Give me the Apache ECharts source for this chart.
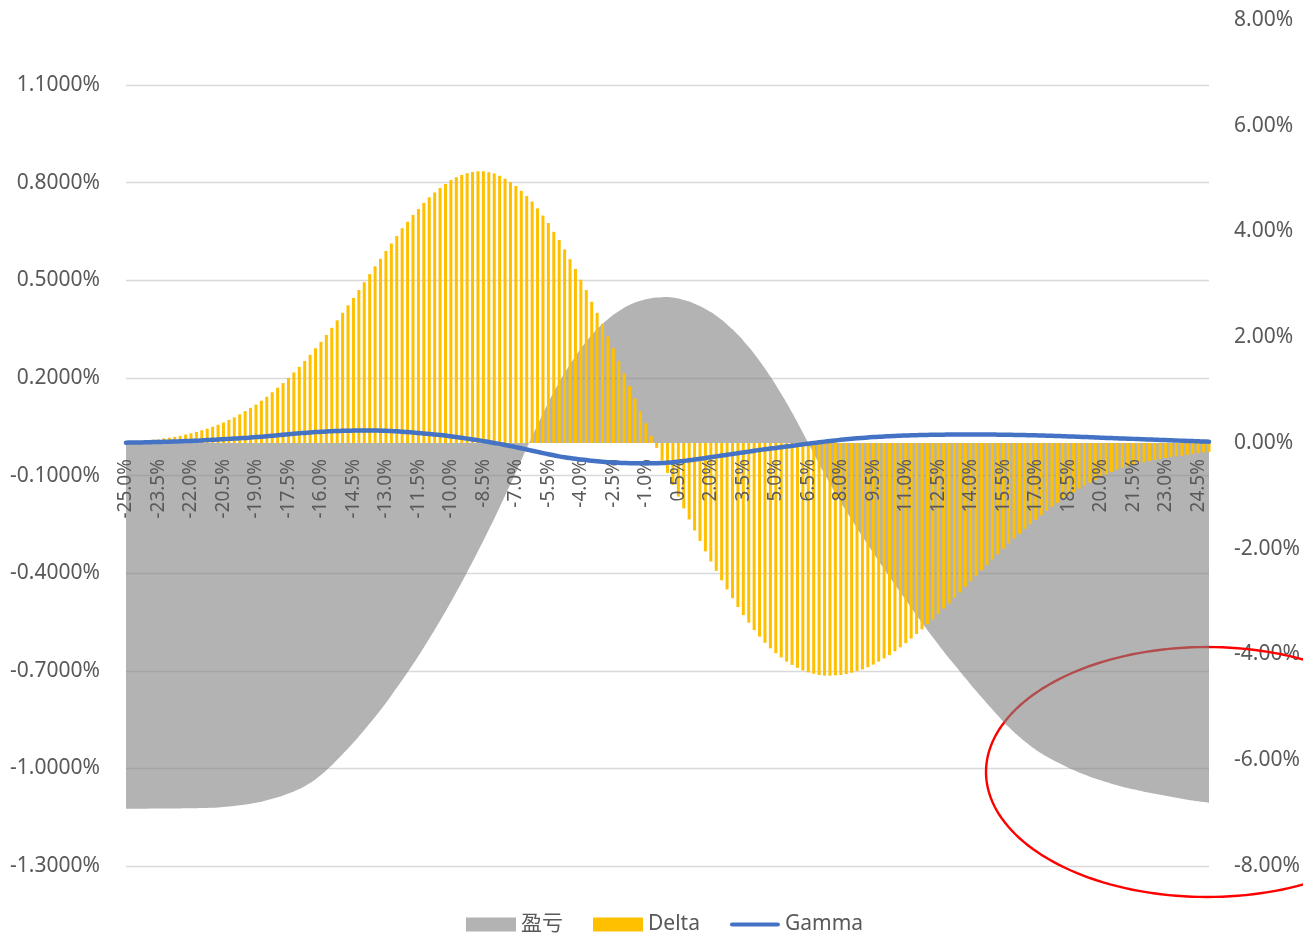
<!DOCTYPE html>
<html><head><meta charset="utf-8">
<script src="https://cdn.jsdelivr.net/npm/echarts@6/dist/echarts.min.js"></script>
<style>html,body{margin:0;padding:0;background:#fff;overflow:hidden}#c{width:1303px;height:935px}</style>
</head><body><div id="c"></div>
<script>
// X categories (underlying move, %)
const categories = [
-25,-24.75,-24.5,-24.25,-24,-23.75,-23.5,-23.25,-23,-22.75,
-22.5,-22.25,-22,-21.75,-21.5,-21.25,-21,-20.75,-20.5,-20.25,
-20,-19.75,-19.5,-19.25,-19,-18.75,-18.5,-18.25,-18,-17.75,
-17.5,-17.25,-17,-16.75,-16.5,-16.25,-16,-15.75,-15.5,-15.25,
-15,-14.75,-14.5,-14.25,-14,-13.75,-13.5,-13.25,-13,-12.75,
-12.5,-12.25,-12,-11.75,-11.5,-11.25,-11,-10.75,-10.5,-10.25,
-10,-9.75,-9.5,-9.25,-9,-8.75,-8.5,-8.25,-8,-7.75,
-7.5,-7.25,-7,-6.75,-6.5,-6.25,-6,-5.75,-5.5,-5.25,
-5,-4.75,-4.5,-4.25,-4,-3.75,-3.5,-3.25,-3,-2.75,
-2.5,-2.25,-2,-1.75,-1.5,-1.25,-1,-0.75,-0.5,-0.25,
0,0.25,0.5,0.75,1,1.25,1.5,1.75,2,2.25,
2.5,2.75,3,3.25,3.5,3.75,4,4.25,4.5,4.75,
5,5.25,5.5,5.75,6,6.25,6.5,6.75,7,7.25,
7.5,7.75,8,8.25,8.5,8.75,9,9.25,9.5,9.75,
10,10.25,10.5,10.75,11,11.25,11.5,11.75,12,12.25,
12.5,12.75,13,13.25,13.5,13.75,14,14.25,14.5,14.75,
15,15.25,15.5,15.75,16,16.25,16.5,16.75,17,17.25,
17.5,17.75,18,18.25,18.5,18.75,19,19.25,19.5,19.75,
20,20.25,20.5,20.75,21,21.25,21.5,21.75,22,22.25,
22.5,22.75,23,23.25,23.5,23.75,24,24.25,24.5,24.75,
25];

// 盈亏 (right axis, %)
const pnl = [
-6.915,-6.915,-6.915,-6.915,-6.915,-6.914,-6.913,-6.913,-6.913,-6.912,
-6.911,-6.910,-6.909,-6.907,-6.905,-6.902,-6.898,-6.892,-6.885,-6.876,
-6.866,-6.853,-6.839,-6.823,-6.805,-6.783,-6.758,-6.730,-6.700,-6.666,
-6.630,-6.589,-6.545,-6.490,-6.430,-6.358,-6.280,-6.190,-6.095,-5.992,
-5.885,-5.777,-5.665,-5.549,-5.429,-5.306,-5.180,-5.049,-4.915,-4.775,
-4.631,-4.486,-4.338,-4.185,-4.028,-3.867,-3.703,-3.534,-3.361,-3.185,
-3.006,-2.822,-2.635,-2.443,-2.248,-2.049,-1.847,-1.641,-1.433,-1.217,
-0.998,-0.777,-0.554,-0.325,-0.095,0.127,0.346,0.559,0.768,0.962,
1.151,1.324,1.491,1.642,1.788,1.918,2.042,2.151,2.253,2.342,
2.425,2.494,2.559,2.610,2.655,2.689,2.717,2.736,2.751,2.758,
2.761,2.750,2.732,2.706,2.675,2.635,2.590,2.536,2.476,2.405,
2.329,2.242,2.149,2.045,1.936,1.816,1.690,1.553,1.411,1.257,
1.098,0.930,0.757,0.575,0.388,0.195,0.000,-0.200,-0.400,-0.587,
-0.770,-0.947,-1.120,-1.287,-1.450,-1.611,-1.770,-1.926,-2.080,-2.231,
-2.380,-2.531,-2.680,-2.826,-2.970,-3.115,-3.260,-3.401,-3.540,-3.676,
-3.810,-3.941,-4.070,-4.196,-4.320,-4.446,-4.570,-4.691,-4.810,-4.926,
-5.040,-5.156,-5.270,-5.372,-5.470,-5.559,-5.645,-5.724,-5.800,-5.867,
-5.930,-5.986,-6.040,-6.091,-6.140,-6.186,-6.230,-6.271,-6.310,-6.346,
-6.380,-6.413,-6.445,-6.473,-6.500,-6.525,-6.550,-6.573,-6.595,-6.615,
-6.635,-6.653,-6.670,-6.690,-6.710,-6.728,-6.745,-6.760,-6.775,-6.790,
-6.805];

// Delta (left axis, %)
const delta = [
0.004,0.005,0.006,0.007,0.008,0.010,0.011,0.014,0.016,0.019,
0.022,0.026,0.030,0.034,0.039,0.044,0.050,0.056,0.063,0.071,
0.079,0.088,0.098,0.108,0.118,0.130,0.142,0.156,0.170,0.184,
0.200,0.217,0.234,0.252,0.271,0.291,0.311,0.332,0.354,0.377,
0.400,0.423,0.446,0.470,0.494,0.519,0.543,0.566,0.590,0.613,
0.636,0.660,0.680,0.701,0.719,0.738,0.755,0.770,0.784,0.796,
0.808,0.817,0.824,0.829,0.833,0.835,0.835,0.832,0.828,0.821,
0.812,0.802,0.790,0.775,0.759,0.742,0.721,0.699,0.676,0.649,
0.624,0.595,0.565,0.535,0.502,0.470,0.434,0.400,0.366,0.327,
0.291,0.252,0.214,0.175,0.137,0.098,0.061,0.022,-0.015,-0.054,
-0.092,-0.129,-0.165,-0.201,-0.235,-0.269,-0.301,-0.333,-0.364,-0.393,
-0.422,-0.450,-0.477,-0.504,-0.529,-0.552,-0.575,-0.595,-0.614,-0.631,
-0.646,-0.659,-0.672,-0.682,-0.691,-0.699,-0.705,-0.709,-0.713,-0.715,
-0.715,-0.714,-0.713,-0.710,-0.706,-0.701,-0.696,-0.689,-0.681,-0.672,
-0.662,-0.652,-0.640,-0.628,-0.615,-0.601,-0.587,-0.573,-0.557,-0.542,
-0.526,-0.509,-0.493,-0.476,-0.459,-0.442,-0.425,-0.408,-0.391,-0.375,
-0.358,-0.342,-0.325,-0.309,-0.294,-0.279,-0.264,-0.249,-0.236,-0.222,
-0.209,-0.196,-0.184,-0.172,-0.161,-0.151,-0.140,-0.131,-0.122,-0.113,
-0.105,-0.097,-0.089,-0.082,-0.076,-0.072,-0.067,-0.063,-0.059,-0.055,
-0.052,-0.049,-0.046,-0.043,-0.041,-0.039,-0.036,-0.034,-0.031,-0.029,
-0.027];

// Gamma (right axis, %)
const gamma = [
0.006,0.008,0.009,0.011,0.013,0.017,0.019,0.023,0.025,0.028,
0.032,0.036,0.040,0.043,0.049,0.055,0.060,0.066,0.072,0.078,
0.083,0.091,0.096,0.104,0.112,0.119,0.129,0.136,0.146,0.155,
0.164,0.174,0.183,0.191,0.198,0.206,0.212,0.217,0.223,0.227,
0.231,0.233,0.235,0.237,0.238,0.238,0.236,0.234,0.231,0.227,
0.221,0.214,0.206,0.198,0.191,0.181,0.172,0.161,0.151,0.140,
0.127,0.112,0.098,0.083,0.068,0.053,0.036,0.019,0.000,-0.017,
-0.038,-0.057,-0.078,-0.100,-0.123,-0.146,-0.168,-0.191,-0.212,-0.233,
-0.253,-0.270,-0.285,-0.299,-0.312,-0.323,-0.335,-0.346,-0.355,-0.363,
-0.369,-0.374,-0.378,-0.381,-0.383,-0.384,-0.384,-0.384,-0.382,-0.378,
-0.371,-0.363,-0.352,-0.340,-0.327,-0.314,-0.299,-0.284,-0.268,-0.253,
-0.238,-0.223,-0.208,-0.193,-0.178,-0.163,-0.147,-0.132,-0.119,-0.106,
-0.093,-0.079,-0.066,-0.053,-0.040,-0.026,-0.013,0.000,0.013,0.026,
0.038,0.049,0.060,0.070,0.079,0.089,0.096,0.104,0.112,0.117,
0.123,0.129,0.133,0.138,0.142,0.146,0.148,0.151,0.153,0.155,
0.157,0.158,0.159,0.160,0.161,0.161,0.161,0.161,0.161,0.160,
0.159,0.158,0.157,0.155,0.153,0.151,0.149,0.147,0.145,0.142,
0.139,0.136,0.132,0.129,0.125,0.121,0.117,0.113,0.110,0.105,
0.100,0.096,0.093,0.089,0.085,0.081,0.078,0.074,0.070,0.066,
0.062,0.059,0.055,0.051,0.047,0.043,0.040,0.036,0.032,0.028,
0.025];

const seriesNames = ['盈亏', 'Delta', 'Gamma'];
// Left axis tick labels (value %), ranges
const leftTicks = [-1.3, -1.0, -0.7, -0.4, -0.1, 0.2, 0.5, 0.8, 1.1];
const leftRange = [-1.3, 1.3];
const rightRange = [-8, 8];
const rightStep = 2;

const FONT = "'Noto Sans', 'Noto Sans CJK SC', sans-serif";
const TXT = '#595959';
const GRAY = 'rgba(128,128,128,0.6)';

// helper axis unit so that the left ticks are integers
const lStep = 0.3;
const toU = v => (v - leftTicks[0]) / lStep - 4;

// annotation ellipse outline (hand-drawn mark in the original)
const ellPts = [];
for (let k = 0; k <= 180; k++) {
  const t = k / 180 * Math.PI * 2;
  ellPts.push([1207 + 221 * Math.cos(t), 772 + 125 * Math.sin(t)]);
}

const chart = echarts.init(document.getElementById('c'), null, {renderer: 'canvas'});
chart.setOption({
  animation: false,
  backgroundColor: '#fff',
  textStyle: {fontFamily: FONT},
  grid: {left: 126, right: 94, top: 20, bottom: 69, containLabel: false, outerBoundsMode: 'none'},
  legend: {
    left: 466, top: 914, padding: 0, itemWidth: 50, itemHeight: 14, itemGap: 30,
    selectedMode: false,
    textStyle: {fontSize: 21, color: TXT, fontFamily: FONT},
    data: [
      {name: seriesNames[0], icon: 'rect'},
      {name: seriesNames[1], icon: 'rect'},
      {name: seriesNames[2], icon: 'path://M2.25,0 L51.75,0 A2.25,2.25 0 0 1 51.75,4.5 L2.25,4.5 A2.25,2.25 0 0 1 2.25,0 Z'}
    ]
  },
  graphic: [{
    type: 'polygon', z: 1,
    shape: {points: ellPts},
    style: {fill: 'none', stroke: '#FF0000', lineWidth: 2.4}
  }],
  xAxis: {
    type: 'category', data: categories, boundaryGap: false, z: 4,
    offset: -423,
    axisLine: {show: false, onZero: false},
    axisTick: {show: false},
    splitLine: {show: false},
    axisLabel: {
      interval: 5, rotate: 90, margin: 16, fontSize: 19, color: TXT, fontFamily: FONT,
      formatter: v => Number(v).toFixed(1) + '%'
    }
  },
  yAxis: [
    {
      type: 'value', position: 'left',
      min: toU(leftRange[0]), max: toU(leftRange[1]), interval: 1,
      axisLine: {show: false}, axisTick: {show: false},
      axisLabel: {
        margin: 26, fontSize: 21, color: TXT, fontFamily: FONT, showMaxLabel: false,
        formatter: u => { const r = Math.round(u); const i = r + 4; return (Math.abs(u - r) < 1e-6 && leftTicks[i] !== undefined) ? leftTicks[i].toFixed(4) + '%' : ''; }
      },
      splitLine: {show: true, showMaxLine: false, lineStyle: {color: '#D9D9D9', width: 1.3}}
    },
    {
      type: 'value', position: 'right',
      min: rightRange[0], max: rightRange[1], interval: rightStep,
      axisLine: {show: false}, axisTick: {show: false},
      axisLabel: {margin: 25, fontSize: 21, color: TXT, fontFamily: FONT, formatter: v => v.toFixed(2) + '%'},
      splitLine: {show: false}
    },
    {
      type: 'value', position: 'left', show: false,
      min: leftRange[0], max: leftRange[1],
      splitLine: {show: false}
    }
  ],
  series: [
    {
      name: seriesNames[0], type: 'line', yAxisIndex: 1, data: pnl, z: 2,
      symbol: 'none', silent: true, smooth: 0.3,
      itemStyle: {color: GRAY},
      lineStyle: {width: 0, opacity: 0},
      areaStyle: {color: GRAY, opacity: 1}
    },
    {
      name: seriesNames[1], type: 'bar', yAxisIndex: 2, data: delta, z: 3,
      barWidth: 3, silent: true,
      itemStyle: {color: '#FFC000'}
    },
    {
      name: seriesNames[2], type: 'line', yAxisIndex: 1, data: gamma, z: 5,
      symbol: 'none', silent: true, smooth: 0.3,
      itemStyle: {color: '#4472C4'},
      lineStyle: {color: '#4472C4', width: 4.5, cap: 'round', join: 'round'}
    }
  ]
});
</script>
</body></html>
